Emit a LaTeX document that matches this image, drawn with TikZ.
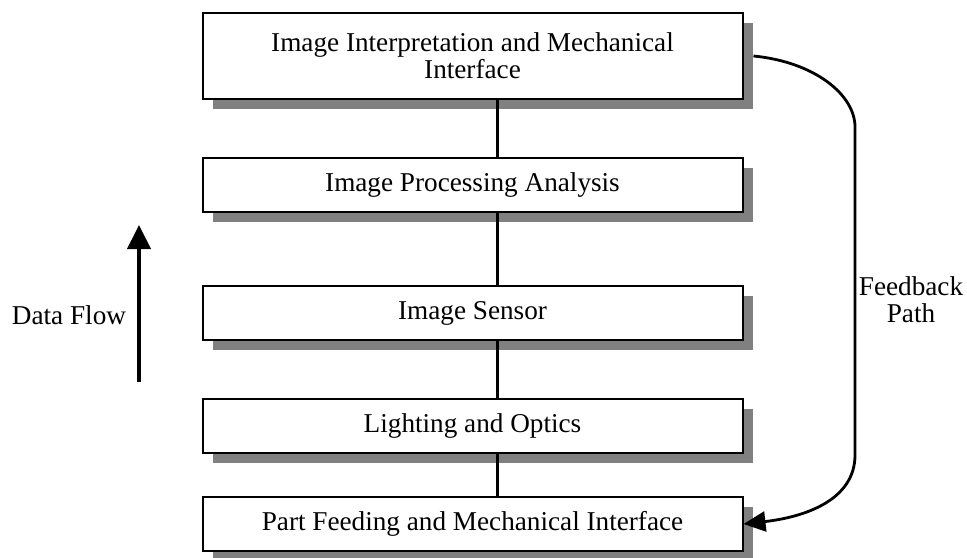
\documentclass[tikz,border=0pt]{standalone}
\usepackage{fontspec}
\setmainfont{Liberation Serif}
\usetikzlibrary{shadows,arrows.meta}
\colorlet{shadowGray}{black!50}
\tikzset{
  stagebox/.style={draw=black,line width=1pt,fill=white,minimum width=270pt,minimum height=27pt,
    inner sep=0pt,align=center,general shadow={fill=shadowGray,shadow xshift=5pt,shadow yshift=-5pt}},
  link/.style={black,line width=1.5pt},
}

\begin{document}
\begin{tikzpicture}[x=0.5pt,y=-0.5pt,font=\fontsize{13.6}{13.5}\selectfont]
\useasboundingbox (0,0) rectangle (967,557);
% the five stages
\node[stagebox,minimum height=43pt] (interp) at (472.5,56) {Image Interpretation and Mechanical\\Interface};
\node[stagebox] (proc) at (472.5,185) {Image Processing Analysis};
\node[stagebox] (sensor) at (472.5,313) {Image Sensor};
\node[stagebox] (optics) at (472.5,426) {Lighting and Optics};
\node[stagebox] (feed) at (472.5,524) {Part Feeding and Mechanical Interface};
\coordinate (chain) at (497,0);
\draw[link] (interp.south -| chain) -- (proc.north -| chain);
\draw[link] (proc.south -| chain) -- (sensor.north -| chain);
\draw[link] (sensor.south -| chain) -- (optics.north -| chain);
\draw[link] (optics.south -| chain) -- (feed.north -| chain);
% data flow
\coordinate (flowBot) at (139,382);
\coordinate (flowTop) at (139,225);
\draw[line width=2pt,-{Triangle[length=12pt,width=11.5pt]}] (flowBot) -- (flowTop);
\node (flow) at (69,315) {Data Flow};
% feedback
\draw[line width=1.4pt,-{Triangle[length=11pt,width=10pt]}] ([xshift=5pt]interp.east)
  .. controls (815,62) and (855,95) .. (855,127) -- (855,455)
  .. controls (855,500) and (805,517) .. (feed.east);
\node[align=center] (fb) at (911,300) {Feedback\\Path};
%\draw[red] (0,0) grid[step=50] (967,557);
\end{tikzpicture}
\end{document}
